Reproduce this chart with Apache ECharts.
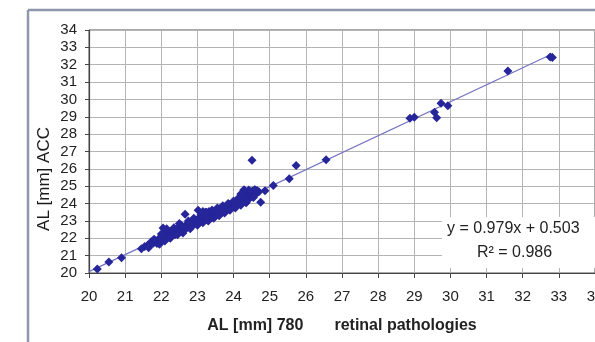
<!DOCTYPE html>
<html>
<head>
<meta charset="utf-8">
<script src="https://cdn.jsdelivr.net/npm/echarts@6/dist/echarts.min.js"></script>
<style>
html,body{margin:0;padding:0;background:#fff;}
#chart{width:595px;height:342px;}
</style>
</head>
<body>
<div id="chart"></div>
<script>
// Measured AL values: [AL 780, AL ACC]
var pointsX = [20.23,20.55,20.90,21.45,21.54,21.62,21.70,21.72,21.78,21.85,21.88,21.92,21.95,21.98,22.02,22.05,22.08,22.10,22.12,22.15,22.18,22.20,22.22,22.25,22.28,22.30,22.32,22.35,22.38,22.40,22.42,22.45,22.48,22.50,22.52,22.55,22.58,22.60,22.62,22.66,22.65,22.68,22.70,22.72,22.75,22.78,22.80,22.82,22.85,22.88,22.90,22.92,22.95,22.98,23.00,23.02,23.03,23.05,23.08,23.10,23.12,23.15,23.18,23.20,23.22,23.25,23.28,23.30,23.32,23.35,23.38,23.40,23.42,23.45,23.48,23.50,23.52,23.55,23.58,23.60,23.62,23.65,23.68,23.70,23.72,23.75,23.78,23.80,23.82,23.85,23.88,23.90,23.92,23.95,23.98,24.00,24.02,24.05,24.08,24.10,24.12,24.15,24.18,24.20,24.22,24.25,24.28,24.28,24.30,24.32,24.35,24.38,24.40,24.42,24.45,24.48,24.50,24.52,24.55,24.58,24.62,24.65,24.70,24.75,24.87,25.10,25.54,24.51,25.73,26.56,28.88,29.00,29.56,29.62,29.74,29.93,31.59,32.76,32.82,
  21.65,21.80,21.95,22.00,22.10,22.15,22.25,22.35,22.45,22.55,22.60,22.75,22.80,22.90,23.00,23.10,23.15,23.25,23.30,23.40,23.45,23.55,23.60,23.70,23.75,23.85,23.90,24.00,24.05,24.15,24.20,24.30,24.35,24.45,24.40,24.55,24.60,24.30,24.20,23.15,22.50];
var pointsY = [20.23,20.63,20.88,21.40,21.53,21.60,21.66,21.80,21.72,21.85,21.70,21.95,21.82,22.05,21.90,22.59,22.12,22.00,22.25,22.40,22.08,22.20,22.30,22.15,22.38,22.25,22.45,22.30,22.20,22.42,22.52,22.35,22.50,22.45,22.60,22.40,22.55,22.65,22.48,23.39,22.70,22.58,22.75,22.62,22.80,22.68,22.85,22.72,22.90,22.78,22.95,22.82,23.00,22.88,23.10,23.62,22.95,23.05,23.15,22.98,23.20,23.10,23.28,23.05,23.50,23.22,23.35,23.15,23.55,23.30,23.20,23.45,23.60,23.35,23.50,23.28,23.62,23.45,23.55,23.70,23.40,23.60,23.52,23.75,23.62,23.68,23.85,23.58,23.75,23.82,23.70,23.95,23.80,23.90,24.00,23.85,24.05,23.95,24.12,24.00,24.20,24.05,24.25,24.15,24.35,24.10,24.78,24.30,24.45,24.20,24.55,24.35,24.65,24.78,24.50,24.40,24.60,24.72,24.65,24.80,24.55,24.75,24.68,24.08,24.74,25.04,25.43,26.50,26.19,26.52,28.92,28.98,29.26,28.95,29.78,29.63,31.64,32.45,32.42,
  21.45,21.95,21.65,22.25,21.85,22.55,22.00,22.60,22.20,22.75,22.30,23.00,22.55,23.15,22.75,23.35,22.90,23.50,23.00,23.62,23.15,23.75,23.30,23.88,23.45,24.00,23.62,24.15,23.75,24.35,23.90,24.60,24.05,24.70,24.20,24.35,24.78,24.78,24.55,23.55,22.85];
// Trendline endpoints
var trendX = [20.0, 32.84];
var trendY = [20.08, 32.65];
var xTicks = {min: 20, max: 34, step: 1};
var yTicks = {min: 20, max: 34, step: 1};
var equationText = 'y = 0.979x + 0.503';
var r2Text = 'R\u00B2 = 0.986';
var xTitle = 'AL [mm] 780       retinal pathologies';
var yTitle = 'AL [mm] ACC';

var scatterData = pointsX.map(function (x, i) { return [x, pointsY[i]]; });
var trendData = trendX.map(function (x, i) { return [x, trendY[i]]; });

var chart = echarts.init(document.getElementById('chart'), null, {renderer: 'canvas'});
var font = '"Liberation Sans", Arial, sans-serif';
chart.setOption({
  backgroundColor: '#ffffff',
  animation: false,
  grid: {left: 89, right: 0, top: 30, bottom: 69, show: true, borderColor: '#555', borderWidth: 1,
         backgroundColor: '#fff', containLabel: false, outerBoundsMode: 'none'},
  xAxis: {
    type: 'value', min: xTicks.min, max: xTicks.max, interval: xTicks.step,
    name: xTitle, nameLocation: 'middle', nameGap: 45,
    nameTextStyle: {fontFamily: font, fontSize: 16, fontWeight: 'bold', color: '#222'},
    axisLine: {show: true, onZero: false, lineStyle: {color: '#444', width: 1.2}},
    axisTick: {show: true, length: 5, lineStyle: {color: '#444'}},
    axisLabel: {fontFamily: font, fontSize: 15, color: '#222', margin: 16, showMaxLabel: true, hideOverlap: false},
    splitLine: {show: true, lineStyle: {color: '#b4b4b4', width: 1}}
  },
  yAxis: {
    type: 'value', min: yTicks.min, max: yTicks.max, interval: yTicks.step,
    axisLine: {show: true, onZero: false, lineStyle: {color: '#444', width: 1.2}},
    axisTick: {show: true, length: 4, lineStyle: {color: '#444'}},
    axisLabel: {fontFamily: font, fontSize: 15, color: '#222', margin: 12},
    splitLine: {show: true, lineStyle: {color: '#b4b4b4', width: 1}}
  },
  graphic: [
    {type: 'line', shape: {x1: 28, y1: 10, x2: 595, y2: 10}, style: {stroke: '#8e97ab', lineWidth: 2.5}, z: 10},
    {type: 'line', shape: {x1: 28, y1: 10, x2: 28, y2: 342}, style: {stroke: '#8e97ab', lineWidth: 2.5}, z: 10},
    {type: 'text', x: 44, y: 179, rotation: Math.PI / 2,
     style: {text: yTitle, font: '17px ' + font, fill: '#1a1a1a', textAlign: 'center', textVerticalAlign: 'middle'}, z: 10},
    {type: 'rect', shape: {x: 442, y: 217, width: 153, height: 51}, style: {fill: '#ffffff'}, z: 20},
    {type: 'text', x: 447, y: 229,
     style: {text: equationText, font: '16px ' + font, fill: '#222', textAlign: 'left', textVerticalAlign: 'middle'}, z: 21},
    {type: 'text', x: 477, y: 253,
     style: {text: r2Text, font: '16px ' + font, fill: '#222', textAlign: 'left', textVerticalAlign: 'middle'}, z: 21}
  ],
  series: [
    {type: 'line', data: trendData, symbol: 'none', lineStyle: {color: '#7373c2', width: 1.2}, z: 2, silent: true},
    {type: 'scatter', data: scatterData, symbol: 'diamond', symbolSize: 9,
     itemStyle: {color: '#26269a', opacity: 1}, z: 3}
  ]
});
</script>
</body>
</html>
